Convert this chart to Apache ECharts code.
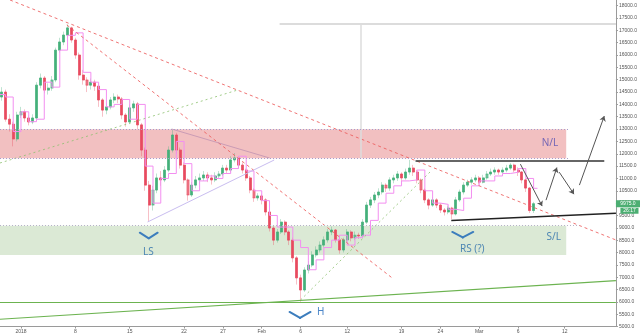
<!DOCTYPE html>
<html><head><meta charset="utf-8">
<script src="https://cdn.jsdelivr.net/npm/echarts@6/dist/echarts.min.js"></script>
<style>html,body{margin:0;padding:0;background:#fff}#chart{width:640px;height:336px}</style>
</head><body><div id="chart"></div>
<script>
// BTC/USD, 12-hour bars. x = days since 1 Jan 2018.
const barStart = -2.5;
const barStep = 0.5;
const firstOpen = 14300;
const closes = [
  14500, 13400, 13200, 12600, 13570, 13700, 13450, 13290, 13450, 14780,
  15070, 14580, 14660, 14990, 16200, 16530, 16810, 17100, 16610, 16000,
  15190, 14990, 14780, 14900, 14740, 14180, 13770, 13900, 14180, 14300,
  14220, 13570, 13290, 13860, 14020, 13170, 12150, 10730, 9920, 10530,
  11020, 10940, 11340, 12150, 12760, 12150, 11540, 10940, 10330, 10730,
  10940, 11020, 11140, 11020, 10940, 11100, 11180, 11420, 11340, 11750,
  11830, 11540, 11340, 11020, 10530, 10210, 10290, 10130, 9640, 8990,
  8500, 8830, 9230, 8830, 8500, 7780, 6970, 6480, 7290, 7490,
  7900, 8100, 8300, 8510, 8830, 8910, 8510, 8100, 8510, 8830,
  8590, 8700, 8670, 9230, 9920, 10130, 10330, 10450, 10730, 10610,
  10940, 11020, 11180, 11020, 11260, 11420, 11260, 10940, 10530, 10130,
  9920, 10130, 9920, 9720, 9640, 9800, 9560, 10130, 10450, 10730,
  10850, 10940, 11020, 10850, 11020, 11180, 11260, 11340, 11260, 11340,
  11420, 11540, 11340, 11260, 10940, 10610, 9700, 9975
];
const highs = [
  14700, 14600, 13600, 13300, 13700, 13900, 13800, 13550, 13600, 14900,
  15250, 15150, 14850, 15150, 16300, 16700, 16950, 17250, 17150, 16700,
  16100, 15400, 15100, 15050, 15000, 14850, 14250, 14050, 14300, 14450,
  14400, 14300, 13650, 14000, 14150, 14100, 13250, 12250, 10900, 10700,
  11200, 11300, 11500, 12300, 12960, 12850, 12250, 11650, 11000, 10850,
  11100, 11200, 11300, 11250, 11150, 11250, 11300, 11550, 11550, 11900,
  12030, 11900, 11650, 11400, 11100, 10600, 10400, 10350, 10200, 9700,
  9100, 8950, 9350, 9300, 8900, 8600, 7850, 7100, 7400, 7650,
  8050, 8250, 8450, 8650, 8950, 9050, 8950, 8600, 8600, 8950,
  8900, 8850, 8800, 9350, 10050, 10250, 10450, 10600, 10850, 10800,
  11050, 11150, 11300, 11250, 11400, 11750, 11550, 11350, 11000, 10600,
  10200, 10250, 10200, 10000, 9800, 9900, 9850, 10250, 10550, 10850,
  10950, 11050, 11150, 11100, 11150, 11300, 11400, 11450, 11400, 11450,
  11550, 11620, 11600, 11450, 11300, 11000, 10650, 10050
];
const lows = [
  14150, 13300, 12900, 12300, 12500, 13450, 13300, 13150, 13200, 13400,
  14650, 14450, 14400, 14550, 14900, 16100, 16400, 16700, 16500, 15850,
  15000, 14800, 14500, 14600, 14550, 13900, 13500, 13600, 13800, 14050,
  14050, 13400, 13100, 13200, 13700, 13000, 11900, 10500, 9270, 9700,
  10400, 10700, 10850, 11250, 12050, 12000, 11400, 10800, 10100, 10250,
  10600, 10800, 10900, 10850, 10750, 10850, 11000, 11100, 11200, 11250,
  11650, 11400, 11200, 10900, 10400, 10050, 10100, 9950, 9500, 8850,
  8300, 8400, 8750, 8700, 8300, 7600, 6700, 6000, 6400, 7150,
  7400, 7800, 8000, 8200, 8400, 8700, 8400, 7950, 8000, 8400,
  8450, 8500, 8550, 8600, 9150, 9800, 10000, 10200, 10350, 10450,
  10500, 10800, 10900, 10850, 10950, 11150, 11100, 10800, 10400, 10000,
  9750, 9850, 9800, 9600, 9500, 9550, 9350, 9500, 10050, 10350,
  10650, 10750, 10850, 10750, 10800, 10950, 11100, 11150, 11150, 11200,
  11250, 11350, 11250, 11100, 10800, 10450, 9600, 9600
];

// daily step indicator, one value per day from day -3
const stepStart = -3;
const stepValues = [
  14400, 14300, 12900, 13700, 13300, 13400, 14900, 14700, 16200, 16800,
  16900, 15300, 14900, 14600, 13900, 14000, 14200, 13400, 14000, 11500,
  10000, 11000, 11200, 12500, 11600, 10500, 10900, 11100, 11000, 11200,
  11400, 11900, 11300, 10500, 10100, 9500, 9030, 9030, 8500, 8200,
  7300, 7700, 8200, 8500, 8700, 8300, 8600, 8700, 9300, 10000,
  10400, 10700, 10900, 10940, 11340, 10500, 10000, 9950, 9750, 9700,
  10200, 10700, 10900, 10900, 11100, 11200, 11250, 11400, 11000, 10600
];

// axis ticks
const xTickDays = [0, 7, 14, 21, 26, 31, 36, 42, 49, 54, 59, 64, 70];
const xTickLabels = ['2018', '8', '15', '22', '27', 'Feb', '6', '12', '19', '24', 'Mar', '6', '12'];
const yTicks = [5000, 5500, 6000, 6500, 7000, 7500, 8000, 8500, 9000, 9500, 10000, 10500, 11000,
  11500, 12000, 12500, 13000, 13500, 14000, 14500, 15000, 15500, 16000, 16500, 17000, 17500, 18000];

// drawing tools: [day, price] pairs
const zoneNL = [11815, 12990];
const zoneSL = [7900, 9085];
const zoneEnd = 70.2;
const redTrendLines = [[[-1.41, 18231], [76.6, 8506]], [[5.91, 17218], [47.8, 6966]]];
const greenDottedLines = [[[-2.7, 11626], [27.9, 14584]], [[36.0, 6075], [52.8, 11303]]];
const wedgeLower = [[16.3, 9235], [32.6, 11747]];
const wedgeUpper = [[19.4, 13004], [32.0, 11829]];
const necklineTop = [[50.8, 11710], [75.1, 11710]];
const necklineBottom = [[55.4, 9296], [76.6, 9588]];
const projectedPath = [
  [[64.3, 11580], [67.1, 9879]],
  [[67.6, 10120], [69.0, 11440]],
  [[69.3, 11255], [71.2, 10364]],
  [[71.9, 10730], [75.1, 13527]]
];
const longSupports = [[[-2.7, 5982], [76.6, 5982]], [[-2.7, 5293], [76.6, 6857]]];
const measureLines = [[[33.3, 17258], [76.6, 17258]], [[43.8, 17258], [43.8, 11830]]];
const chevrons = [
  [[15.3, 8802], [16.45, 8575], [17.6, 8802]],
  [[34.58, 5589], [35.93, 5346], [37.28, 5589]],
  [[55.53, 8831], [56.88, 8608], [58.23, 8831]]
];
const textLabels = [
  { text: 'N/L', at: [68.1, 12437], color: '#7466b6' },
  { text: 'S/L', at: [68.6, 8608], color: '#4d86b3' },
  { text: 'LS', at: [16.4, 8020], color: '#4d86b3' },
  { text: 'H', at: [38.6, 5568], color: '#4a85c8' },
  { text: 'RS (?)', at: [58.1, 8141], color: '#4d86b3' }
];
const countdown = '26:17';

const upColor = '#44b07a', downColor = '#e84a5f';
const xMin = -2.7, xMax = 76.6, yMin = 5000, yMax = 18231;

const candles = closes.map((c, i) => {
  const o = i === 0 ? firstOpen : closes[i - 1];
  return [barStart + i * barStep, o, c, lows[i], highs[i]];
});
const bodies = candles.map(([t, o, c]) => [t, o, c, Math.min(o, c), Math.max(o, c)]);
const stepData = stepValues.map((v, i) => [stepStart + i, v]);
stepData.push([stepStart + stepValues.length - 0.5, stepValues[stepValues.length - 1]]);

function seg(pts, style, endSymbol) {
  const a = { coord: pts[0], lineStyle: style, symbol: 'none' };
  const b = { coord: pts[1], lineStyle: style, symbol: endSymbol || 'none', symbolSize: 5 };
  return [a, b];
}
const redDash = { color: 'rgba(236,92,92,0.85)', width: 1, type: [3, 3] };
const greenDot = { color: 'rgba(140,192,110,0.8)', width: 1, type: [2, 3] };
const zoneBorder = { color: '#a99ccc', width: 1, type: [1, 2] };
const lines = [];
redTrendLines.forEach(p => lines.push(seg(p, redDash)));
greenDottedLines.forEach(p => lines.push(seg(p, greenDot)));
lines.push(seg(wedgeLower, { color: '#c9bdf0', width: 1, type: 'solid' }));
lines.push(seg(wedgeUpper, { color: 'rgba(185,140,175,0.7)', width: 1, type: 'solid' }));
lines.push(seg(necklineTop, { color: '#333', width: 1.5, type: 'solid' }));
lines.push(seg(necklineBottom, { color: '#222', width: 1.5, type: 'solid' }));
projectedPath.forEach(p => lines.push(seg(p, { color: '#555', width: 1, type: 'solid' }, 'arrow')));
longSupports.forEach(p => lines.push(seg(p, { color: '#6cb350', width: 1.2, type: 'solid' })));
lines.push(seg(measureLines[0], { color: '#dcdcdc', width: 2, type: 'solid' }));
lines.push(seg(measureLines[1], { color: '#dcdcdc', width: 1.5, type: 'solid' }));
lines.push(seg([[xMin, zoneNL[1]], [zoneEnd + 0.4, zoneNL[1]]], zoneBorder));
lines.push(seg([[xMin, zoneNL[0]], [zoneEnd + 0.4, zoneNL[0]]], zoneBorder));
lines.push(seg([[xMin, zoneSL[1]], [zoneEnd + 1.7, zoneSL[1]]], { color: '#b7b3c8', width: 1, type: [1, 2] }));
chevrons.forEach(c => {
  const st = { color: '#3c7dbd', width: 2, type: 'solid', cap: 'round' };
  lines.push(seg([c[0], c[1]], st));
  lines.push(seg([c[1], c[2]], st));
});

const chart = echarts.init(document.getElementById('chart'));
chart.setOption({
  animation: false,
  backgroundColor: '#fff',
  grid: { left: 0, right: 23, top: 0, bottom: 9.5 },
  xAxis: {
    type: 'value', min: xMin, max: xMax,
    splitLine: { show: false },
    axisLine: { onZero: false, lineStyle: { color: '#9a9a9a', width: 1 } },
    axisTick: { show: true, customValues: xTickDays, length: 2, lineStyle: { color: '#9a9a9a' } },
    axisLabel: {
      customValues: xTickDays, margin: 3, fontSize: 5, color: '#555', fontFamily: 'Liberation Sans',
      formatter: v => { const i = xTickDays.indexOf(v); return i >= 0 ? xTickLabels[i] : ''; }
    }
  },
  yAxis: {
    type: 'value', position: 'right', min: yMin, max: yMax, scale: true,
    splitLine: { show: false },
    axisLine: { show: true, onZero: false, lineStyle: { color: '#9a9a9a', width: 1 } },
    axisTick: { show: true, customValues: yTicks, length: 2, lineStyle: { color: '#9a9a9a' } },
    axisLabel: {
      customValues: yTicks, margin: 3, fontSize: 5, color: '#555', fontFamily: 'Liberation Sans',
      formatter: v => v.toFixed(1)
    }
  },
  series: [
    {
      type: 'line', data: [], silent: true, z: 1,
      markArea: {
        silent: true,
        data: [
          [{ coord: [xMin, zoneNL[0]], itemStyle: { color: '#f2c0c1' } }, { coord: [zoneEnd, zoneNL[1]] }],
          [{ coord: [xMin, zoneSL[0]], itemStyle: { color: '#dbe9d5' } }, { coord: [zoneEnd, zoneSL[1]] }]
        ]
      }
    },
    {
      type: 'candlestick', z: 2, silent: true, barWidth: 2.6,
      dimensions: ['t', 'open', 'close', 'lowest', 'highest'],
      encode: { x: 't', y: ['open', 'close', 'lowest', 'highest'] },
      data: candles,
      itemStyle: {
        color: 'rgba(0,0,0,0)', color0: 'rgba(0,0,0,0)',
        borderColor: 'rgba(68,176,122,0.35)', borderColor0: 'rgba(232,74,95,0.35)', borderWidth: 1
      }
    },
    {
      type: 'candlestick', z: 3, silent: true, barWidth: 2.4,
      dimensions: ['t', 'open', 'close', 'lowest', 'highest'],
      encode: { x: 't', y: ['open', 'close', 'lowest', 'highest'] },
      data: bodies,
      itemStyle: { color: upColor, color0: downColor, borderColor: upColor, borderColor0: downColor, borderWidth: 0.6 }
    },
    {
      type: 'line', z: 4, silent: true, step: 'end', data: stepData, showSymbol: false,
      lineStyle: { color: '#f38ef0', width: 1 }
    },
    {
      type: 'line', data: [], silent: true, z: 5,
      markLine: { silent: true, symbol: 'none', label: { show: false }, emphasis: { disabled: true }, data: lines }
    }
  ]
});

// annotation texts and last price tags
const gfx = textLabels.map(l => {
  const p = chart.convertToPixel({ gridIndex: 0 }, l.at);
  return {
    type: 'text', x: p[0], y: p[1], z: 100,
    style: { text: l.text, fill: l.color, fontSize: 10, fontFamily: 'Noto Sans', align: 'center', verticalAlign: 'middle' }
  };
});
const lastClose = closes[closes.length - 1];
const py = chart.convertToPixel({ gridIndex: 0 }, [0, lastClose])[1];
const gx = chart.convertToPixel({ gridIndex: 0 }, [xMax, lastClose])[0];
gfx.push({ type: 'rect', z: 100, shape: { x: gx, y: py - 3.5, width: 640 - gx, height: 7 }, style: { fill: '#4cae72' } });
gfx.push({ type: 'text', z: 101, x: gx + (640 - gx) / 2, y: py, style: { text: lastClose.toFixed(1), fill: '#fff', fontSize: 5, fontFamily: 'Liberation Sans', align: 'center', verticalAlign: 'middle' } });
gfx.push({ type: 'rect', z: 100, shape: { x: gx + 4.5, y: py + 4, width: 640 - gx - 6, height: 6 }, style: { fill: '#4cae72' } });
gfx.push({ type: 'text', z: 101, x: gx + 4.5 + (640 - gx - 6) / 2, y: py + 7, style: { text: countdown, fill: '#fff', fontSize: 5, fontFamily: 'Liberation Sans', align: 'center', verticalAlign: 'middle' } });
chart.setOption({ graphic: gfx });
</script>
</body></html>
